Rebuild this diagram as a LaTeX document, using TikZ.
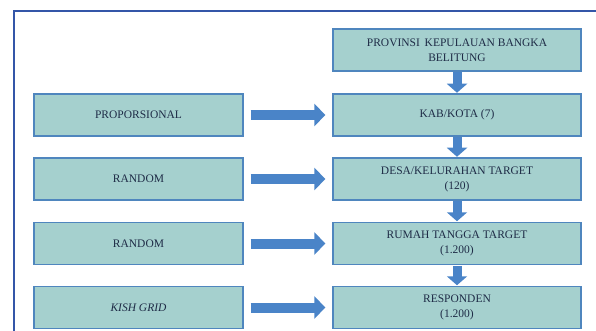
\documentclass[tikz,border=0pt]{standalone}
\usepackage{fontspec}
\setmainfont{Liberation Serif}
\usetikzlibrary{arrows.meta}
\definecolor{boxfill}{HTML}{A5D0CE}
\definecolor{boxline}{HTML}{4F86BE}
\definecolor{arrowc}{HTML}{4A84C8}
\definecolor{framec}{HTML}{3456A8}
\definecolor{txt}{HTML}{1E2B46}
\begin{document}
\begin{tikzpicture}[x=1pt,y=-1pt,
  box/.style={draw=boxline,line width=1.3pt,fill=boxfill,text=txt,
    inner sep=0pt,align=center,font=\fontsize{11.5}{15}\selectfont},
  lbox/.style={box,minimum width=209pt,minimum height=42pt},
  rbox/.style={box,minimum width=248pt,minimum height=42pt},
  rarrow/.style={arrowc,line width=10pt,-{Triangle[length=11pt,width=22pt]},shorten >=0pt},
  darrow/.style={arrowc,line width=9pt,-{Triangle[length=9pt,width=20pt]}}
]
\useasboundingbox (0,0) rectangle (596,331);
\coordinate (fbl) at (14,331);
\coordinate (ftl) at (14,11);
\coordinate (ftr) at (596,11);
\draw[framec,line width=1.8pt] (fbl) -- (ftl) -- (ftr);

\node[rbox] (prov) at (457,50) {PROVINSI\, KEPULAUAN BANGKA\\BELITUNG};
\node[rbox] (kab) at (457,115) {KAB/KOTA (7)};
\node[rbox] (desa) at (457,179) {DESA/KELURAHAN TARGET\\(120)};
\node[rbox] (rt) at (457,243.5) {RUMAH TANGGA TARGET\\(1.200)};
\node[rbox] (resp) at (457,307.5) {RESPONDEN\\(1.200)};

\node[lbox] (prop) at (138.5,115) {PROPORSIONAL};
\node[lbox] (rand1) at (138.5,179) {RANDOM};
\node[lbox] (rand2) at (138.5,243.5) {RANDOM};
\node[lbox] (kish) at (138.5,307.5) {\textit{KISH GRID}};

\foreach \a/\b in {prop/kab,rand1/desa,rand2/rt,kish/resp}{
  \draw[rarrow,shorten <=7pt,shorten >=7pt] (\a.east) -- (\b.west);
}
\foreach \a/\b in {prov/kab,kab/desa,desa/rt,rt/resp}{
  \draw[darrow,shorten <=0.6pt,shorten >=0.6pt] (\a.south) -- (\b.north);
}
\end{tikzpicture}
\end{document}
